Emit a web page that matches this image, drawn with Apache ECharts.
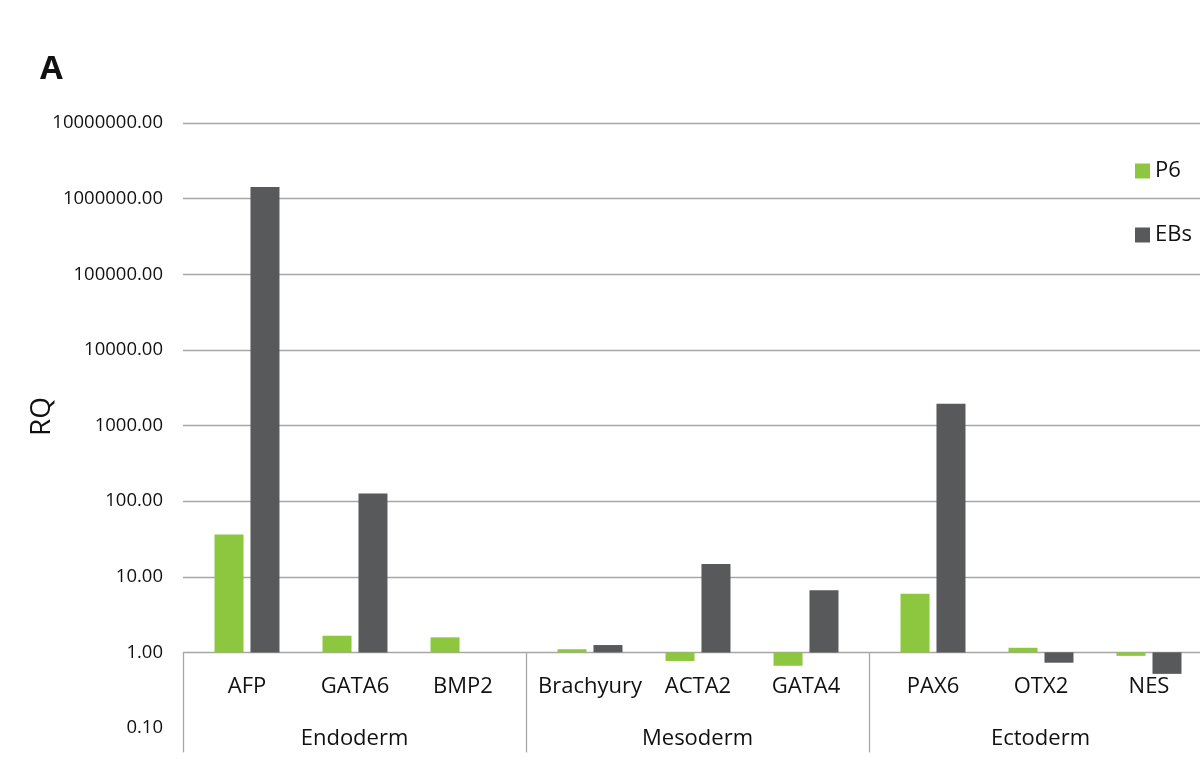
<!DOCTYPE html>
<html>
<head>
<meta charset="utf-8">
<script src="https://cdn.jsdelivr.net/npm/echarts@6/dist/echarts.min.js"></script>
<style>html,body{margin:0;padding:0;background:#fff;}#c{width:1200px;height:773px;}</style>
</head>
<body>
<div id="c"></div>
<script>
const groups = ['Endoderm', 'Mesoderm', 'Ectoderm'];
const genes = [['AFP', 'GATA6', 'BMP2'], ['Brachyury', 'ACTA2', 'GATA4'], ['PAX6', 'OTX2', 'NES']];
const p6Values = [[36.2, 1.66, 1.58], [1.10, 0.77, 0.665], [5.94, 1.15, 0.90]];
const ebsValues = [[1430000, 126, null], [1.25, 14.7, 6.65], [1945, 0.73, 0.52]];
const seriesNames = ['P6', 'EBs'];
const yMin = 0.1, yMax = 10000000;

const FONT = 'Open Sans';
const GREEN = '#8DC63F', DARK = '#58595B', GRIDC = '#A6A6A6', TXT = '#111';
const TOP = 123, BOT_FULL = 45, BOT_ONE = 120.6;

const grids = [], xAxes = [], yAxes = [], series = [];

// grid 0: horizontal gridlines from 1 to 1e7
grids.push({left: 183, right: 0, top: TOP, bottom: BOT_ONE, outerBoundsMode: 'none'});
xAxes.push({type: 'category', gridIndex: 0, show: false, data: ['']});
yAxes.push({type: 'log', gridIndex: 0, min: 1, max: yMax, logBase: 10, splitNumber: 10,
  axisLine: {show: false}, axisTick: {show: false}, axisLabel: {show: false},
  splitLine: {show: true, lineStyle: {color: GRIDC, width: 1.3}}});

// grid 1: tick labels and axis name
grids.push({left: 183, right: 0, top: TOP, bottom: BOT_FULL, outerBoundsMode: 'none'});
xAxes.push({type: 'category', gridIndex: 1, show: false, data: ['']});
yAxes.push({type: 'log', gridIndex: 1, min: yMin, max: yMax, logBase: 10, splitNumber: 10,
  name: 'RQ', nameLocation: 'middle', nameGap: 127, nameRotate: 90, nameMoveOverlap: false,
  nameTextStyle: {fontSize: 28, color: TXT, fontFamily: FONT, padding: [0, 0, 0, 18]},
  axisLine: {show: false}, axisTick: {show: false}, splitLine: {show: false},
  axisLabel: {margin: 20, fontSize: 18.5, color: TXT, fontFamily: FONT,
    formatter: v => Number(v).toFixed(2)}});

// grid 2: group labels and dividers
grids.push({left: 183, width: 1029, top: TOP, bottom: BOT_ONE, outerBoundsMode: 'none'});
xAxes.push({type: 'category', gridIndex: 2, data: groups, position: 'bottom',
  axisLine: {show: false},
  axisTick: {show: true, length: 100, inside: false, lineStyle: {color: GRIDC, width: 1.3}},
  axisLabel: {margin: 75, fontSize: 22, color: TXT, fontFamily: FONT}});
yAxes.push({type: 'value', gridIndex: 2, show: false, min: 0, max: 1});

// grids 3..5: bars
groups.forEach((g, k) => {
  const gi = 3 + k;
  grids.push({left: 193 + k * 343, width: 324, top: TOP, bottom: BOT_FULL, outerBoundsMode: 'none'});
  xAxes.push({type: 'category', gridIndex: gi, data: genes[k], offset: -(773 - BOT_FULL - (773 - BOT_ONE)),
    axisLine: {show: false}, axisTick: {show: false},
    axisLabel: {margin: 23, fontSize: 22, color: TXT, fontFamily: FONT, interval: 0}});
  yAxes.push({type: 'log', gridIndex: gi, show: false, min: yMin, max: yMax, logBase: 10});
  series.push({name: seriesNames[0], type: 'bar', xAxisIndex: gi, yAxisIndex: gi,
    data: p6Values[k], barWidth: 29, barGap: '24%', itemStyle: {color: GREEN}});
  series.push({name: seriesNames[1], type: 'bar', xAxisIndex: gi, yAxisIndex: gi,
    data: ebsValues[k], barWidth: 29, barGap: '24%', itemStyle: {color: DARK}});
});

const chart = echarts.init(document.getElementById('c'), null, {renderer: 'canvas'});
chart.setOption({
  animation: false,
  backgroundColor: '#fff',
  textStyle: {fontFamily: FONT},
  title: {text: 'A', left: 35, top: 48, textStyle: {fontSize: 33, fontWeight: 'bold', color: TXT, fontFamily: FONT}},
  legend: {data: seriesNames, orient: 'vertical', left: 1130, top: 155, icon: 'rect',
    itemWidth: 15, itemHeight: 15, itemGap: 42, itemStyle: {borderWidth: 0},
    textStyle: {fontSize: 22, color: TXT, fontFamily: FONT}},
  grid: grids, xAxis: xAxes, yAxis: yAxes, series: series
});
</script>
</body>
</html>
